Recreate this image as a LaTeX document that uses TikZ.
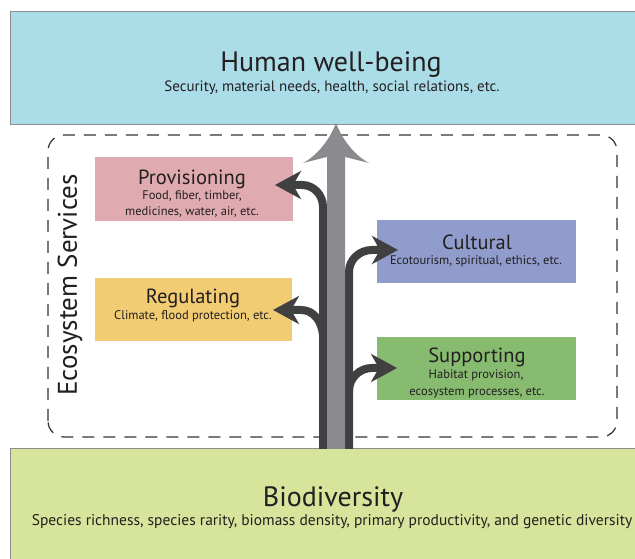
\documentclass[tikz,border=0pt]{standalone}
\usepackage{fontspec}
\setmainfont{PT Sans}
\usetikzlibrary{arrows.meta}
\definecolor{hwbc}{HTML}{ABDDE9}
\definecolor{bioc}{HTML}{D7E49B}
\definecolor{provc}{HTML}{DFAAB0}
\definecolor{regc}{HTML}{F2CC72}
\definecolor{cultc}{HTML}{8F9CCC}
\definecolor{suppc}{HTML}{87BB70}
\definecolor{txtc}{HTML}{231F20}
\definecolor{darkc}{HTML}{404041}
\definecolor{grayc}{HTML}{8A8B8E}
\definecolor{edgec}{HTML}{8C8C8C}
\tikzset{
  box/.style={rectangle, inner sep=0pt, outer sep=0pt, draw=none},
  bigbox/.style={rectangle, inner sep=0pt, outer sep=0pt, draw=edgec, line width=1pt},
  bigtitle/.style={inner sep=0pt, text=txtc, font=\fontsize{28}{32}\selectfont},
  midtitle/.style={inner sep=0pt, text=txtc, font=\fontsize{20.5}{24}\selectfont},
  bigsub/.style={inner sep=0pt, text=txtc, font=\fontsize{15}{17}\selectfont},
  smallsub/.style={inner sep=0pt, text=txtc, font=\fontsize{12.5}{14}\selectfont},
  branch/.style={draw=darkc, line width=8pt, -{Stealth[length=26pt,width=28pt,inset=8pt]}},
  dashbox/.style={draw=black!80, line width=1.2pt, dash pattern=on 12pt off 9pt, rounded corners=16pt}
}
\begin{document}
\begin{tikzpicture}[x=1pt,y=1pt]
\useasboundingbox (0,0) rectangle (635,559);
\fill[white] (0,0) rectangle (635,559);
% big boxes
\node[bigbox, fill=hwbc, minimum width=640pt, minimum height=113pt] (hwb) at (330,490.5) {};
\node[bigbox, fill=bioc, minimum width=640pt, minimum height=120pt] (bio) at (330,50) {};
% dashed services frame
\draw[dashbox] (48,122) rectangle (617,424);
% service boxes
\node[box, fill=provc, minimum width=198pt, minimum height=64pt] (prov) at (194,370) {};
\node[box, fill=regc, minimum width=197pt, minimum height=63pt] (reg) at (193.5,249.5) {};
\node[box, fill=cultc, minimum width=199pt, minimum height=63pt] (cult) at (476.5,307.5) {};
\node[box, fill=suppc, minimum width=199pt, minimum height=63pt] (supp) at (476.5,190.5) {};
% texts
\node[bigtitle] (hwbt) at (331,494) {Human well-being};
\node[bigsub] (hwbs) at (332,471.5) {Security, material needs, health, social relations, etc.};
\node[bigtitle] (biot) at (333,60) {Biodiversity};
\node[inner sep=0pt, text=txtc, font=\fontsize{15.5}{17}\selectfont] (bios) at (332,37) {Species richness, species rarity, biomass density, primary productivity, and genetic diversity};
\node[midtitle] (provt) at (192,380) {Provisioning};
\node[smallsub] (provs1) at (192,362.5) {Food, fiber, timber,};
\node[smallsub] (provs2) at (192,346.5) {medicines, water, air, etc.};
\node[midtitle] (regt) at (193,261) {Regulating};
\node[smallsub] (regs) at (193,242.5) {Climate, flood protection, etc.};
\node[midtitle] (cultt) at (477,317) {Cultural};
\node[smallsub] (cults) at (476,297.5) {Ecotourism, spiritual, ethics, etc.};
\node[midtitle] (suppt) at (477,202) {Supporting};
\node[smallsub] (supps1) at (476,183.5) {Habitat provision,};
\node[smallsub] (supps2) at (477,166.5) {ecosystem processes, etc.};
\node[inner sep=0pt, text=txtc, font=\fontsize{27}{30}\selectfont, rotate=90] (ess) at (70,274) {Ecosystem Services};
% coordinates for the stems
\coordinate (lbot) at (323,110);
\coordinate (ltop) at (323,352);
\coordinate (lreg) at (323,224);
\coordinate (rbot) at (349,110);
\coordinate (rtop) at (349,287);
\coordinate (rsup) at (349,168);
% dark branching arrows
\draw[branch] (lbot) -- (ltop) to[out=90,in=0] (302,374) -- ([xshift=-18pt]prov.east |- 0,374);
\draw[branch] (lreg) to[out=95,in=0] (301,249) -- ([xshift=-19pt]reg.east |- 0,249);
\draw[branch] (rbot) -- (rtop) to[out=90,in=180] (372,309) -- ([xshift=21pt]cult.west |- 0,309);
\draw[branch] (rsup) to[out=90,in=180] (372,191) -- ([xshift=20pt]supp.west |- 0,191);
% gray main arrow
\fill[grayc] (327,110) -- (327,402) -- (303,396)
  .. controls (318,404) and (330,420) .. (336,436)
  .. controls (342,420) and (354,404) .. (369,396)
  -- (345,402) -- (345,110) -- cycle;
\end{tikzpicture}
\end{document}
